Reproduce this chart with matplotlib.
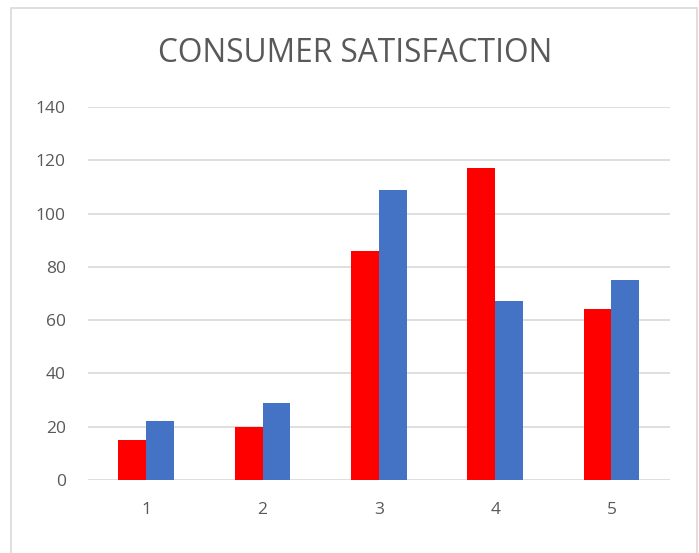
import numpy as np
import matplotlib.pyplot as plt
from matplotlib.patches import Rectangle

# data
categories = ['1', '2', '3', '4', '5']
series_red = [15, 20, 86, 117, 64]
series_blue = [22, 29, 109, 67, 75]

plt.rcParams['font.family'] = ['Open Sans', 'DejaVu Sans']

fig = plt.figure(figsize=(6.99, 5.53), dpi=100)
ax = fig.add_axes([0.126, 0.132, 0.832, 0.6745])

x = np.arange(1, len(categories) + 1)
w = 0.24
ax.bar(x - w / 2, series_red, w, color='#ff0000', zorder=3)
ax.bar(x + w / 2, series_blue, w, color='#4472c4', zorder=3)

ax.set_xlim(0.5, 5.5)
ax.set_ylim(0, 140)
ax.set_yticks(range(0, 141, 20))
ax.set_xticks(x)
ax.set_xticklabels(categories)
ax.grid(axis='y', color='#d9d9d9', linewidth=1.2, zorder=0)
for s in ax.spines.values():
    s.set_visible(False)
ax.tick_params(length=0, colors='#595959', labelsize=12.5)
ax.tick_params(axis='y', pad=16)
ax.tick_params(axis='x', pad=16)

fig.text(0.508, 0.903, 'CONSUMER SATISFACTION', ha='center', va='center',
         fontsize=22.8, color='#595959')

# light frame round the chart
fig.patches.append(Rectangle((11 / 699, -5 / 553), 686 / 699, 550 / 553,
                             transform=fig.transFigure, fill=False,
                             edgecolor='#d9d9d9', linewidth=1.2))

fig.savefig('out.png', dpi=100)
